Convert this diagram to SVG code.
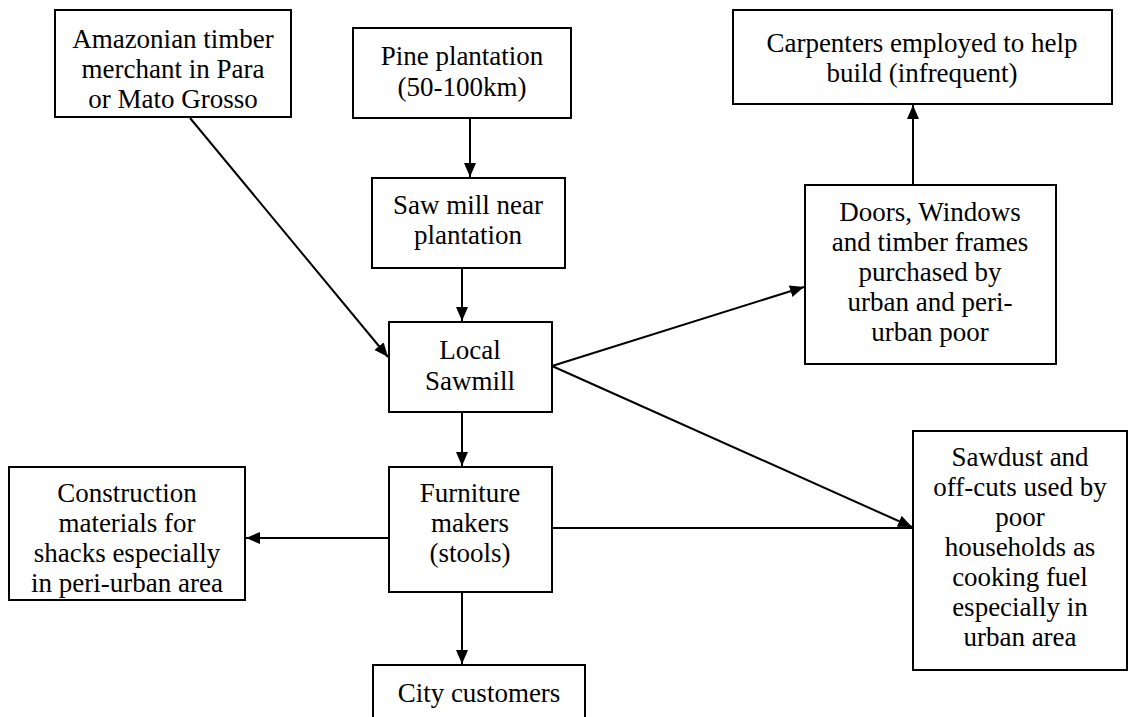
<svg xmlns="http://www.w3.org/2000/svg" width="1129" height="717" viewBox="0 0 1129 717">
<style>
.box{fill:#fff;stroke:#000;stroke-width:2}
.t{font-family:"Liberation Serif","Times New Roman",serif;font-size:27px;fill:#000;text-anchor:middle}
.c{stroke:#000;stroke-width:2;fill:none}
</style>
<defs>
<marker id="ah" viewBox="0 0 14 12" refX="14" refY="6" markerWidth="14" markerHeight="12" markerUnits="userSpaceOnUse" orient="auto">
<path d="M0,0 L14,6 L0,12 Z" fill="#000"/>
</marker>
</defs>
<rect width="1129" height="717" fill="#fff"/>
<g id="connectors">
<line class="c" x1="190" y1="118" x2="388" y2="357" marker-end="url(#ah)"/>
<line class="c" x1="470" y1="118" x2="470" y2="177" marker-end="url(#ah)"/>
<line class="c" x1="462" y1="268" x2="462" y2="321" marker-end="url(#ah)"/>
<line class="c" x1="462" y1="412" x2="462" y2="466" marker-end="url(#ah)"/>
<line class="c" x1="462" y1="592" x2="462" y2="664" marker-end="url(#ah)"/>
<line class="c" x1="389" y1="538" x2="246" y2="538" marker-end="url(#ah)"/>
<line class="c" x1="552" y1="528" x2="912" y2="528"/>
<line class="c" x1="552" y1="366" x2="912" y2="527" marker-end="url(#ah)"/>
<line class="c" x1="552" y1="366" x2="804" y2="287" marker-end="url(#ah)"/>
<line class="c" x1="913" y1="185" x2="913" y2="105" marker-end="url(#ah)"/>
</g>
<g id="amazonian">
<rect class="box" x="55" y="10" width="236" height="107"/>
<text class="t" x="173" y="48">Amazonian timber</text>
<text class="t" x="173" y="78">merchant in Para</text>
<text class="t" x="173" y="108">or Mato Grosso</text>
</g>
<g id="pine">
<rect class="box" x="353" y="28" width="218" height="90"/>
<text class="t" x="462" y="65">Pine plantation</text>
<text class="t" x="462" y="96">(50-100km)</text>
</g>
<g id="sawmill-near">
<rect class="box" x="372" y="178" width="193" height="90"/>
<text class="t" x="468" y="214">Saw mill near</text>
<text class="t" x="468" y="244">plantation</text>
</g>
<g id="local-sawmill">
<rect class="box" x="389" y="322" width="163" height="90"/>
<text class="t" x="470" y="359">Local</text>
<text class="t" x="470" y="390">Sawmill</text>
</g>
<g id="furniture">
<rect class="box" x="389" y="467" width="163" height="125"/>
<text class="t" x="470" y="502">Furniture</text>
<text class="t" x="470" y="532">makers</text>
<text class="t" x="470" y="562">(stools)</text>
</g>
<g id="city">
<rect class="box" x="373" y="665" width="212" height="60"/>
<text class="t" x="479" y="702">City customers</text>
</g>
<g id="construction">
<rect class="box" x="9" y="467" width="236" height="133"/>
<text class="t" x="127" y="502">Construction</text>
<text class="t" x="127" y="532">materials for</text>
<text class="t" x="127" y="562">shacks especially</text>
<text class="t" x="127" y="592">in peri-urban area</text>
</g>
<g id="carpenters">
<rect class="box" x="733" y="10" width="379" height="94"/>
<text class="t" x="922" y="52">Carpenters employed to help</text>
<text class="t" x="922" y="82">build (infrequent)</text>
</g>
<g id="doors">
<rect class="box" x="805" y="185" width="251" height="179"/>
<text class="t" x="930" y="221">Doors, Windows</text>
<text class="t" x="930" y="251">and timber frames</text>
<text class="t" x="930" y="281">purchased by</text>
<text class="t" x="930" y="311">urban and peri-</text>
<text class="t" x="930" y="341">urban poor</text>
</g>
<g id="sawdust">
<rect class="box" x="913" y="431" width="214" height="239"/>
<text class="t" x="1020" y="466">Sawdust and</text>
<text class="t" x="1020" y="496">off-cuts used by</text>
<text class="t" x="1020" y="526">poor</text>
<text class="t" x="1020" y="556">households as</text>
<text class="t" x="1020" y="586">cooking fuel</text>
<text class="t" x="1020" y="616">especially in</text>
<text class="t" x="1020" y="646">urban area</text>
</g>
</svg>
